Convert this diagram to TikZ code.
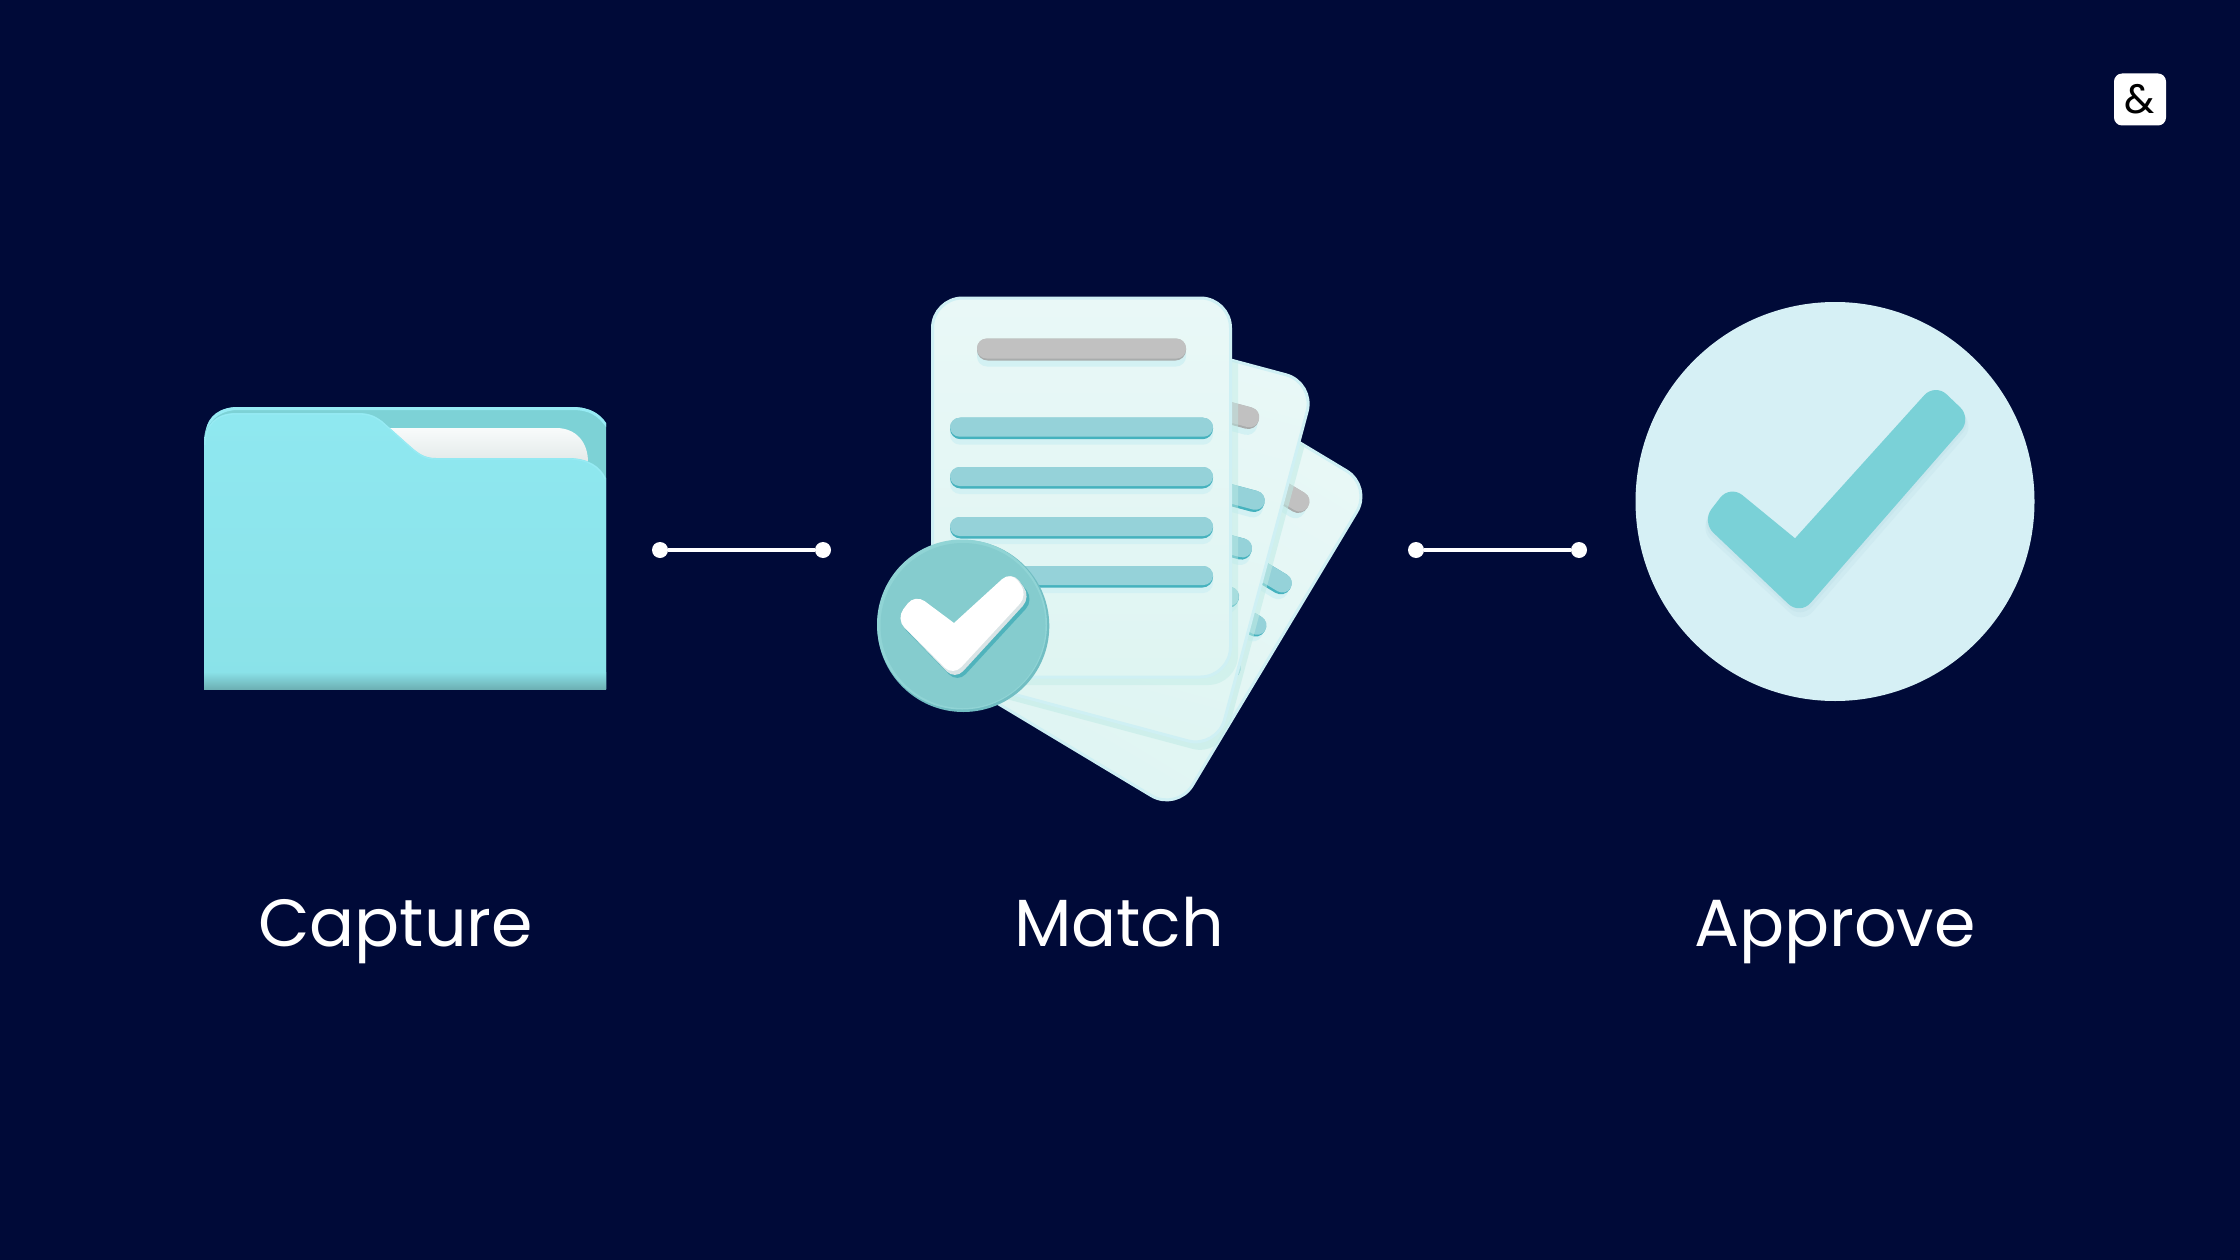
\documentclass[tikz,border=0pt]{standalone}
\usepackage{fontspec}
\setmainfont{Poppins}
\definecolor{navy}{HTML}{000A38}
\definecolor{folderfront}{HTML}{8FE8F0}
\definecolor{folderlow}{HTML}{8AE2E8}
\definecolor{foldermid}{HTML}{82D6DB}
\definecolor{folderdark}{HTML}{6DB0B4}
\definecolor{folderback}{HTML}{7DD2D6}
\definecolor{folderedge}{HTML}{97EBF4}
\definecolor{papertop}{HTML}{F8FBFB}
\definecolor{paperlow}{HTML}{D8E0DF}
\definecolor{pagetop}{HTML}{E9F8F7}
\definecolor{pagelow}{HTML}{DFF5F2}
\definecolor{pageedge}{HTML}{CFF0F4}
\definecolor{pageshadow}{HTML}{BFEBE5}
\definecolor{barlight}{HTML}{95D2D9}
\definecolor{bardark}{HTML}{45B2BE}
\definecolor{barglow}{HTML}{D3F1F3}
\definecolor{graybar}{HTML}{C1C1C1}
\definecolor{graydark}{HTML}{A9ACAC}
\definecolor{badge}{HTML}{85CCCE}
\definecolor{badgedark}{HTML}{72BEC3}
\definecolor{badgelight}{HTML}{90D4D5}
\definecolor{checkshadow}{HTML}{4FB3BC}
\definecolor{checkgray}{HTML}{D9E4E6}
\definecolor{circlefill}{HTML}{D6F0F5}
\definecolor{tealcheck}{HTML}{7AD1D7}
\definecolor{tealshadow}{HTML}{C3E3EA}
\tikzset{
  dotnode/.style={circle,fill=white,draw=none,minimum size=16pt,inner sep=0pt},
  linkline/.style={draw=white,line width=3.6pt},
  caption/.style={text=white,font=\fontsize{66.7}{70}\selectfont,anchor=base,inner sep=0pt},
  pageshape/.style={rounded corners=30pt}
}
% one page in local coordinates
\newcommand{\pagebars}{%
  \fill[barglow,rounded corners=10pt] (-104.5,-145) rectangle (104.5,-121);
  \fill[graydark,rounded corners=10.5pt] (-104.5,-149) rectangle (104.5,-127);
  \fill[graybar,rounded corners=9.5pt] (-104.5,-149) rectangle (104.5,-129);
  \foreach \yy in {-69.8,-20.5,29.5,78.5}{%
    \fill[barglow,rounded corners=10pt] (-131.5,\yy+4) rectangle (131.5,\yy+27);
    \fill[bardark,rounded corners=10.5pt] (-131.5,\yy) rectangle (131.5,\yy+21.5);
    \fill[barlight,rounded corners=9.5pt] (-131.5,\yy) rectangle (131.5,\yy+19);
  }%
}
\newcommand{\pagebase}[1]{%
  \draw[pageshape,draw=pageedge,line width=3pt,top color=pagetop,bottom color=pagelow,shading angle=#1]
    (-149,-189.5) rectangle (149,189.5);
}
\begin{document}
\begin{tikzpicture}[x=1pt,y=-1pt]
\useasboundingbox (0,0) rectangle (2240,1260);
\fill[navy] (0,0) rectangle (2240,1260);

% ---------- folder ----------
\fill[folderback] (204,689) -- (204,442) .. controls (204,420) and (218,407) .. (238,407)
  -- (572,407) .. controls (590,407) and (600,414) .. (606,423) -- (606,689) -- cycle;
\fill[folderedge] (206,430) .. controls (208,416) and (220,407) .. (238,407)
  -- (572,407) .. controls (590,407) and (600,414) .. (606,423) -- (606,427)
  .. controls (598,416) and (590,410) .. (572,410) -- (238,410)
  .. controls (222,410) and (212,418) .. (206,430) -- cycle;
\shade[top color=papertop,bottom color=paperlow] (390,428) -- (556,428)
  .. controls (576,428) and (588,442) .. (588,462) -- (588,480) -- (390,480) -- cycle;
\path[top color=folderfront,bottom color=folderlow]
  (204,689) -- (204,445) .. controls (204,425) and (216,413) .. (236,413)
  -- (358,413) .. controls (368,413) and (374,415) .. (382,421)
  -- (410,446) .. controls (418,453) and (424,458) .. (436,458)
  -- (568,458) .. controls (588,458) and (600,466) .. (606,478)
  -- (606,689) -- cycle;
\draw[folderedge,line width=1.2pt] (205,445) .. controls (205,425) and (216,414) .. (236,414)
  -- (358,414) .. controls (368,414) and (374,416) .. (382,422)
  -- (410,447) .. controls (418,454) and (424,459) .. (436,459)
  -- (568,459) .. controls (588,459) and (600,467) .. (605,479);
\shade[top color=folderlow,middle color=foldermid,bottom color=folderdark] (204,672) rectangle (606,689);

% ---------- third page ----------
\begin{scope}[shift={(1146.8,571.9)},rotate=-31]
  \pagebase{-31}
  \begin{scope}
    \clip[pageshape] (-149,-189.5) rectangle (149,189.5);
    \pagebars
    \begin{scope}[reset cm]
      \fill[pageshadow,opacity=.55,pageshape,shift={(1124.9,533)},rotate=-15] (-151,-191) rectangle (151,191);
    \end{scope}
  \end{scope}
\end{scope}

% ---------- second page ----------
\begin{scope}[shift={(1121.9,527)},rotate=-15]
  \pagebase{-15}
  \begin{scope}
    \clip[pageshape] (-149,-189.5) rectangle (149,189.5);
    \pagebars
    \begin{scope}[reset cm]
      \fill[pageshadow,opacity=.45,pageshape] (931,304) rectangle (1238,685);
    \end{scope}
  \end{scope}
\end{scope}

% ---------- front page ----------
\begin{scope}[shift={(1081.5,487.5)}]
  \pagebase{0}
  \pagebars
\end{scope}

% ---------- badge ----------
\node[circle,fill=badgedark,minimum size=172pt,inner sep=0pt] (badgeouter) at (963.3,626) {};
\fill[badgelight] (962,624.5) circle[radius=85pt];
\fill[badge] (963,625.5) circle[radius=82.5pt];
\fill[rounded corners=12pt,fill=checkshadow] (917,597) [sharp corners] -- (956,627.4) [rounded corners=12pt] -- (1014,574) -- (1034,600) -- (957.5,683) -- (898,622) -- cycle;
\fill[rounded corners=12pt,fill=checkgray] (915,594) [sharp corners] -- (954,624.4) [rounded corners=12pt] -- (1012,571) -- (1031,597) -- (955,680) -- (896,619) -- cycle;
\fill[rounded corners=12pt,fill=white] (915,594) [sharp corners] -- (954,623) [rounded corners=12pt] -- (1011,571) -- (1028,595) -- (953,676) -- (896,619) -- cycle;

% ---------- approve ----------
\node[circle,fill=circlefill,minimum size=399pt,inner sep=0pt] (approvecircle) at (1835,501.5) {};
\fill[tealshadow,opacity=.35,rounded corners=16pt] (1730,491) [sharp corners] -- (1795,544) [rounded corners=16pt] -- (1935,389) -- (1975,425)
  -- (1802,624) -- (1699,529) -- cycle;
\fill[tealshadow,opacity=.5,rounded corners=16pt] (1730,488) [sharp corners] -- (1795,541) [rounded corners=16pt] -- (1935,386) -- (1973,421)
  -- (1801,619) -- (1700,525) -- cycle;
\fill[tealcheck,rounded corners=16pt] (1730,485) [sharp corners] -- (1795,538.3) [rounded corners=16pt] -- (1935,383.3)
  -- (1971.7,418.3) -- (1800,615) -- (1701.7,521.7) -- cycle;

% ---------- connectors ----------
\node[dotnode] (capA) at (660,550) {};
\node[dotnode] (capB) at (823,550) {};
\node[dotnode] (matA) at (1416,550) {};
\node[dotnode] (matB) at (1579,550) {};
\draw[linkline] (capA) -- (capB);
\draw[linkline] (matA) -- (matB);

% ---------- captions ----------
\node[caption] (capture) at (395.5,946) {Capture};
\node[caption] (match) at (1119,946) {Match};
\node[caption] (approve) at (1835,946) {Approve};

% ---------- logo ----------
\node[fill=white,rounded corners=8pt,minimum size=52pt,inner sep=0pt] (logobox) at (2140,99.5) {};
\node[text=black,font=\fontsize{41}{44}\selectfont,inner sep=0pt] (logoamp) at (2140,99.5) {\&};
\end{tikzpicture}
\end{document}
